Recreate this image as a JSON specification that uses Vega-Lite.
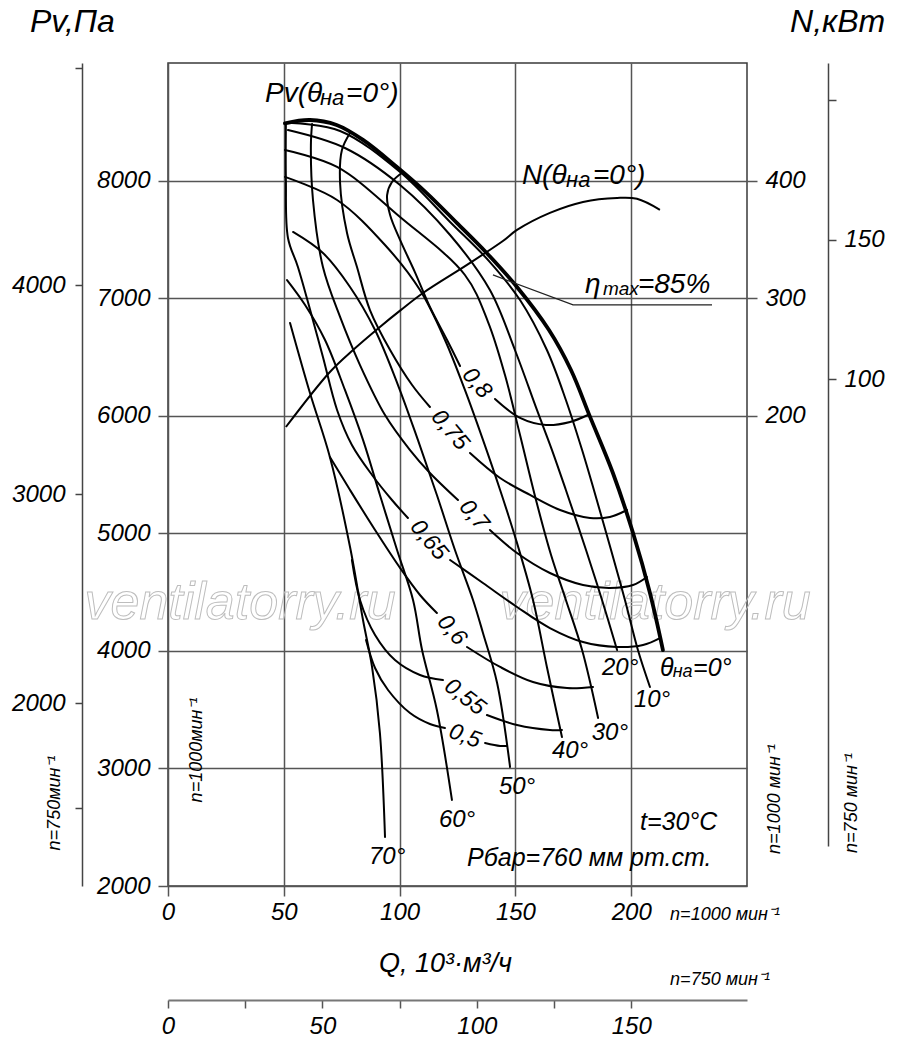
{
  "$schema": "https://vega.github.io/schema/vega-lite/v6.json",
  "width": 579,
  "height": 823,
  "autosize": "none",
  "padding": {"left": 168, "top": 63, "right": 153, "bottom": 161},
  "background": "white",
  "config": {
    "view": {"stroke": "#3a3a3a", "strokeWidth": 1.5},
    "font": "Liberation Sans",
    "axis": {
      "labelFont": "Liberation Sans", "labelFontStyle": "italic", "labelFontSize": 24, "labelColor": "#000",
      "labelFlush": false, "labelOverlap": false, "labelBound": false,
      "tickColor": "#444", "tickWidth": 1.5, "domainColor": "#444", "domainWidth": 1.5, "grid": false,
      "titleFont": "Liberation Sans", "titleFontStyle": "italic", "titleFontWeight": "normal", "titleColor": "#000"
    },
    "text": {"font": "Liberation Sans", "fontStyle": "italic", "color": "#000"}
  },
  "datasets": {
    "curves": [
      {"c":"0°","o":1,"q":50.5,"p":8487},{"c":"0°","o":2,"q":61.3,"p":8515},{"c":"0°","o":3,"q":72.8,"p":8473},{"c":"0°","o":4,"q":84.2,"p":8346},{"c":"0°","o":5,"q":98.7,"p":8118},{"c":"0°","o":6,"q":111.7,"p":7894},{"c":"0°","o":7,"q":124.7,"p":7640},{"c":"0°","o":8,"q":137.6,"p":7384},{"c":"0°","o":9,"q":150.6,"p":7097},{"c":"0°","o":10,"q":164.5,"p":6729},{"c":"0°","o":11,"q":174.0,"p":6389},{"c":"0°","o":12,"q":182.2,"p":5992},{"c":"0°","o":13,"q":192.1,"p":5513},{"c":"0°","o":14,"q":200.8,"p":5002},{"c":"0°","o":15,"q":208.1,"p":4492},{"c":"0°","o":16,"q":213.7,"p":4007},
      {"c":"10°","o":1,"q":53.5,"p":8490},{"c":"10°","o":2,"q":74.3,"p":8422},{"c":"10°","o":3,"q":100.2,"p":8073},{"c":"10°","o":4,"q":121.8,"p":7648},{"c":"10°","o":5,"q":139.0,"p":7307},{"c":"10°","o":6,"q":152.0,"p":6984},{"c":"10°","o":7,"q":163.6,"p":6559},{"c":"10°","o":8,"q":171.8,"p":6134},{"c":"10°","o":9,"q":178.8,"p":5708},{"c":"10°","o":10,"q":183.9,"p":5368},{"c":"10°","o":11,"q":191.3,"p":4858},{"c":"10°","o":12,"q":197.3,"p":4433},{"c":"10°","o":13,"q":202.9,"p":4007},{"c":"10°","o":14,"q":208.1,"p":3693},
      {"c":"20°","o":1,"q":51.8,"p":8430},{"c":"20°","o":2,"q":76.4,"p":8277},{"c":"20°","o":3,"q":100.2,"p":7962},{"c":"20°","o":4,"q":121.8,"p":7537},{"c":"20°","o":5,"q":139.0,"p":7069},{"c":"20°","o":6,"q":149.8,"p":6559},{"c":"20°","o":7,"q":159.3,"p":6049},{"c":"20°","o":8,"q":165.8,"p":5708},{"c":"20°","o":9,"q":171.8,"p":5368},{"c":"20°","o":10,"q":180.5,"p":4858},{"c":"20°","o":11,"q":187.4,"p":4433},{"c":"20°","o":12,"q":193.9,"p":4007},
      {"c":"30°","o":1,"q":50.5,"p":8260},{"c":"30°","o":2,"q":73.0,"p":8116},{"c":"30°","o":3,"q":100.2,"p":7690},{"c":"30°","o":4,"q":128.2,"p":7197},{"c":"30°","o":5,"q":138.2,"p":6797},{"c":"30°","o":6,"q":145.5,"p":6346},{"c":"30°","o":7,"q":152.0,"p":5836},{"c":"30°","o":8,"q":158.9,"p":5283},{"c":"30°","o":9,"q":165.4,"p":4815},{"c":"30°","o":10,"q":171.8,"p":4433},{"c":"30°","o":11,"q":178.8,"p":4007},{"c":"30°","o":12,"q":185.7,"p":3429},
      {"c":"40°","o":1,"q":50.5,"p":8031},{"c":"40°","o":2,"q":73.0,"p":7835},{"c":"40°","o":3,"q":93.7,"p":7452},{"c":"40°","o":4,"q":108.8,"p":7069},{"c":"40°","o":5,"q":119.6,"p":6644},{"c":"40°","o":6,"q":128.2,"p":6219},{"c":"40°","o":7,"q":136.0,"p":5794},{"c":"40°","o":8,"q":143.4,"p":5368},{"c":"40°","o":9,"q":150.3,"p":4943},{"c":"40°","o":10,"q":157.6,"p":4433},{"c":"40°","o":11,"q":163.6,"p":3863},{"c":"40°","o":12,"q":170.1,"p":3267},
      {"c":"50°","o":1,"q":54.0,"p":7563},{"c":"50°","o":2,"q":66.9,"p":7384},{"c":"50°","o":3,"q":78.6,"p":7095},{"c":"50°","o":4,"q":89.4,"p":6729},{"c":"50°","o":5,"q":99.3,"p":6261},{"c":"50°","o":6,"q":107.9,"p":5794},{"c":"50°","o":7,"q":116.1,"p":5326},{"c":"50°","o":8,"q":123.9,"p":4858},{"c":"50°","o":9,"q":131.7,"p":4433},{"c":"50°","o":10,"q":136.0,"p":4152},{"c":"50°","o":11,"q":142.1,"p":3727},{"c":"50°","o":12,"q":147.7,"p":3012},
      {"c":"60°","o":1,"q":51.4,"p":7154},{"c":"60°","o":2,"q":59.2,"p":6942},{"c":"60°","o":3,"q":67.8,"p":6644},{"c":"60°","o":4,"q":76.4,"p":6219},{"c":"60°","o":5,"q":84.2,"p":5794},{"c":"60°","o":6,"q":91.5,"p":5326},{"c":"60°","o":7,"q":98.9,"p":4858},{"c":"60°","o":8,"q":105.8,"p":4433},{"c":"60°","o":9,"q":109.7,"p":4007},{"c":"60°","o":10,"q":116.1,"p":3497},{"c":"60°","o":11,"q":122.6,"p":2732},
      {"c":"70°","o":1,"q":52.7,"p":6789},{"c":"70°","o":2,"q":61.3,"p":6193},{"c":"70°","o":3,"q":69.9,"p":5649},{"c":"70°","o":4,"q":78.6,"p":4883},{"c":"70°","o":5,"q":84.2,"p":4262},{"c":"70°","o":6,"q":88.1,"p":3863},{"c":"70°","o":7,"q":91.5,"p":3301},{"c":"70°","o":8,"q":93.7,"p":2417},
      {"c":"0,8a","o":1,"q":101.5,"p":8073},{"c":"0,8a","o":2,"q":96.7,"p":7988},{"c":"0,8a","o":3,"q":94.6,"p":7877},{"c":"0,8a","o":4,"q":95.9,"p":7707},{"c":"0,8a","o":5,"q":100.2,"p":7495},{"c":"0,8a","o":6,"q":106.6,"p":7222},{"c":"0,8a","o":7,"q":113.1,"p":6925},{"c":"0,8a","o":8,"q":120.5,"p":6644},{"c":"0,8a","o":9,"q":126.1,"p":6423},
      {"c":"0,8b","o":1,"q":141.2,"p":6142},{"c":"0,8b","o":2,"q":152.0,"p":5981},{"c":"0,8b","o":3,"q":163.2,"p":5921},{"c":"0,8b","o":4,"q":173.6,"p":5947},{"c":"0,8b","o":5,"q":181.3,"p":6006},
      {"c":"0,75a","o":1,"q":78.6,"p":8405},{"c":"0,75a","o":2,"q":75.1,"p":8260},{"c":"0,75a","o":3,"q":74.3,"p":7979},{"c":"0,75a","o":4,"q":77.3,"p":7554},{"c":"0,75a","o":5,"q":81.6,"p":7265},{"c":"0,75a","o":6,"q":87.2,"p":6899},{"c":"0,75a","o":7,"q":95.9,"p":6559},{"c":"0,75a","o":8,"q":105.4,"p":6261},{"c":"0,75a","o":9,"q":113.1,"p":6074},
      {"c":"0,75b","o":1,"q":130.4,"p":5683},{"c":"0,75b","o":2,"q":143.4,"p":5470},{"c":"0,75b","o":3,"q":156.3,"p":5326},{"c":"0,75b","o":4,"q":169.3,"p":5198},{"c":"0,75b","o":5,"q":182.2,"p":5130},{"c":"0,75b","o":6,"q":190.8,"p":5139},{"c":"0,75b","o":7,"q":198.2,"p":5198},
      {"c":"0,7a","o":1,"q":62.2,"p":8481},{"c":"0,7a","o":2,"q":61.7,"p":8303},{"c":"0,7a","o":3,"q":62.6,"p":7835},{"c":"0,7a","o":4,"q":66.9,"p":7265},{"c":"0,7a","o":5,"q":74.3,"p":6840},{"c":"0,7a","o":6,"q":82.9,"p":6431},{"c":"0,7a","o":7,"q":93.7,"p":6006},{"c":"0,7a","o":8,"q":104.5,"p":5708},{"c":"0,7a","o":9,"q":113.1,"p":5513},{"c":"0,7a","o":10,"q":125.2,"p":5283},
      {"c":"0,7b","o":1,"q":139.0,"p":5028},{"c":"0,7b","o":2,"q":150.7,"p":4832},{"c":"0,7b","o":3,"q":164.9,"p":4662},{"c":"0,7b","o":4,"q":179.2,"p":4560},{"c":"0,7b","o":5,"q":190.8,"p":4535},{"c":"0,7b","o":6,"q":200.8,"p":4560},{"c":"0,7b","o":7,"q":206.8,"p":4628},
      {"c":"0,65a","o":1,"q":50.9,"p":8481},{"c":"0,65a","o":2,"q":50.9,"p":8005},{"c":"0,65a","o":3,"q":51.8,"p":7512},{"c":"0,65a","o":4,"q":56.1,"p":7265},{"c":"0,65a","o":5,"q":62.2,"p":6840},{"c":"0,65a","o":6,"q":66.9,"p":6500},{"c":"0,65a","o":7,"q":73.0,"p":6049},{"c":"0,65a","o":8,"q":79.4,"p":5751},{"c":"0,65a","o":9,"q":88.1,"p":5496},{"c":"0,65a","o":10,"q":96.7,"p":5283},{"c":"0,65a","o":11,"q":103.6,"p":5130},
      {"c":"0,65b","o":1,"q":121.8,"p":4773},{"c":"0,65b","o":2,"q":136.0,"p":4577},{"c":"0,65b","o":3,"q":150.7,"p":4373},{"c":"0,65b","o":4,"q":164.9,"p":4194},{"c":"0,65b","o":5,"q":179.2,"p":4075},{"c":"0,65b","o":6,"q":193.9,"p":4033},{"c":"0,65b","o":7,"q":205.1,"p":4050},{"c":"0,65b","o":8,"q":212.4,"p":4109},
      {"c":"0,6a","o":1,"q":69.9,"p":5649},{"c":"0,6a","o":2,"q":78.6,"p":5368},{"c":"0,6a","o":3,"q":89.4,"p":5028},{"c":"0,6a","o":4,"q":100.2,"p":4705},{"c":"0,6a","o":5,"q":108.8,"p":4475},{"c":"0,6a","o":6,"q":116.1,"p":4322},
      {"c":"0,6b","o":1,"q":129.1,"p":4033},{"c":"0,6b","o":2,"q":143.4,"p":3863},{"c":"0,6b","o":3,"q":157.6,"p":3735},{"c":"0,6b","o":4,"q":172.3,"p":3684},{"c":"0,6b","o":5,"q":183.5,"p":3693},
      {"c":"0,55a","o":1,"q":79.4,"p":4773},{"c":"0,55a","o":2,"q":82.9,"p":4433},{"c":"0,55a","o":3,"q":89.4,"p":4135},{"c":"0,55a","o":4,"q":98.0,"p":3922},{"c":"0,55a","o":5,"q":108.8,"p":3795},{"c":"0,55a","o":6,"q":118.7,"p":3752},
      {"c":"0,55b","o":1,"q":137.7,"p":3454},{"c":"0,55b","o":2,"q":150.7,"p":3369},{"c":"0,55b","o":3,"q":164.9,"p":3327},{"c":"0,55b","o":4,"q":170.1,"p":3327},
      {"c":"0,5a","o":1,"q":85.5,"p":4092},{"c":"0,5a","o":2,"q":89.4,"p":3854},{"c":"0,5a","o":3,"q":95.0,"p":3667},{"c":"0,5a","o":4,"q":104.5,"p":3471},{"c":"0,5a","o":5,"q":113.1,"p":3378},{"c":"0,5a","o":6,"q":119.6,"p":3344},
      {"c":"0,5b","o":1,"q":136.9,"p":3216},{"c":"0,5b","o":2,"q":143.4,"p":3191},{"c":"0,5b","o":3,"q":146.4,"p":3191}
    ],
    "power": [
      {"q":50.9,"n":190.4},{"q":69.9,"n":237.2},{"q":79.9,"n":255.9},{"q":91.5,"n":275.5},{"q":100.6,"n":290.0},{"q":110.1,"n":304.4},{"q":129.1,"n":328.3},{"q":144.6,"n":348.6},{"q":150.7,"n":358.0},{"q":164.9,"n":372.5},{"q":179.2,"n":381.8},{"q":193.9,"n":385.2},{"q":202.5,"n":384.5},{"q":212.4,"n":375.1}
    ],
    "leader": [
      {"o":1,"q":140.3,"p":7197},{"o":2,"q":174.9,"p":6942},{"o":3,"q":234.9,"p":6942}
    ],
    "labels": [
      {"g":"title","t":"Pv,Па","q":-59.6,"p":9349},
      {"g":"title","t":"N,кВт","q":268.6,"p":9349},
      {"g":"big","t":"Pv(θ","q":41.9,"p":8737},
      {"g":"big","t":"=0°)","q":76.9,"p":8737},
      {"g":"big","t":"N(θ","q":152.8,"p":8039},
      {"g":"big","t":"=0°)","q":183.5,"p":8039},
      {"g":"big","t":"η","q":180.1,"p":7112},
      {"g":"big","t":"=85%","q":202.9,"p":7112},
      {"g":"sub","t":"на","q":65.6,"p":8702},
      {"g":"sub","t":"на","q":171.9,"p":8005},
      {"g":"max","t":"max","q":187.8,"p":7078},
      {"g":"mid","t":"θ","q":212.4,"p":3854},
      {"g":"mid","t":"=0°","q":226.7,"p":3854},
      {"g":"mid","t":"t=30°C","q":203.8,"p":2544},
      {"g":"mid","t":"Рбар=760 мм рт.ст.","q":129.1,"p":2238},
      {"g":"sub2","t":"на","q":217.9,"p":3820},
      {"g":"deg","t":"20°","q":195.2,"p":3854},
      {"g":"deg","t":"10°","q":209.0,"p":3582},
      {"g":"deg","t":"30°","q":190.8,"p":3301},
      {"g":"deg","t":"40°","q":173.6,"p":3148},
      {"g":"deg","t":"50°","q":150.7,"p":2842},
      {"g":"deg","t":"60°","q":124.8,"p":2561},
      {"g":"deg","t":"70°","q":94.6,"p":2247},
      {"g":"e1","t":"0,8","q":133.4,"p":6278},
      {"g":"e1","t":"0,75","q":121.8,"p":5879},
      {"g":"e1","t":"0,7","q":132.1,"p":5156},
      {"g":"e1","t":"0,65","q":112.7,"p":4943},
      {"g":"e1","t":"0,6","q":122.6,"p":4177},
      {"g":"e2","t":"0,55","q":128.2,"p":3608},
      {"g":"e3","t":"0,5","q":128.2,"p":3276},
      {"g":"rot","t":"n=1000мин⁻¹","q":12.5,"p":3157},
      {"g":"rot","t":"n=750мин⁻¹","q":-48.8,"p":2706},
      {"g":"rot","t":"n=1000 мин⁻¹","q":262.1,"p":2740},
      {"g":"rot","t":"n=750 мин⁻¹","q":295.3,"p":2706},
      {"g":"n","t":"n=1000 мин⁻¹","q":216.8,"p":1753},
      {"g":"n","t":"n=750 мин⁻¹","q":216.8,"p":1200},
      {"g":"wm","t":"ventilatorry.ru","q":31.1,"p":4407},
      {"g":"wm","t":"ventilatorry.ru","q":210.3,"p":4407}
    ]
  },
  "resolve": {"scale": {"x": "independent", "y": "independent"}},
  "layer": [
    {
      "encoding": {
        "x": {
          "field": "q", "type": "quantitative",
          "scale": {"domain": [0, 250], "nice": false, "zero": false},
          "axis": {
            "values": [0, 50, 100, 150, 200], "format": "d", "grid": true, "gridColor": "#555", "gridWidth": 1.5,
            "tickSize": 10, "tickColor": "#555", "domain": false, "labelPadding": 4,
            "title": "Q, 10³·м³/ч", "titleFontSize": 27, "titleX": 277, "titleY": 77,
            "titleAlign": "center", "titleBaseline": "middle"
          }
        },
        "y": {
          "field": "p", "type": "quantitative",
          "scale": {"domain": [2000, 9000], "nice": false, "zero": false},
          "axis": {
            "values": [2000, 3000, 4000, 5000, 6000, 7000, 8000], "format": "d", "grid": true,
            "gridColor": "#555", "gridWidth": 1.5, "tickSize": 10, "tickColor": "#555",
            "domain": false, "labelPadding": 8, "title": null
          }
        }
      },
      "layer": [
        {
          "data": {"name": "labels"},
          "transform": [{"filter": "datum.g === 'wm'"}],
          "mark": {"type": "text", "fontSize": 52, "align": "center", "baseline": "middle", "fillOpacity": 0, "stroke": "#bdbdbd", "strokeWidth": 1},
          "encoding": {"text": {"field": "t"}}
        },
        {
          "data": {"name": "curves"},
          "mark": {"type": "line", "interpolate": "catmull-rom", "strokeCap": "round", "strokeJoin": "round", "color": "#000"},
          "encoding": {
            "detail": {"field": "c"},
            "order": {"field": "o", "type": "quantitative"},
            "strokeWidth": {"condition": {"test": "datum.c === '0°'", "value": 3.8}, "value": 2}
          }
        },
        {
          "data": {"name": "leader"},
          "mark": {"type": "line", "color": "#222", "strokeWidth": 1.3},
          "encoding": {"order": {"field": "o", "type": "quantitative"}}
        },
        {
          "data": {"name": "labels"},
          "transform": [{"filter": "datum.g === 'title'"}],
          "mark": {"type": "text", "fontSize": 32, "align": "left", "baseline": "middle"},
          "encoding": {"text": {"field": "t"}}
        },
        {
          "data": {"name": "labels"},
          "transform": [{"filter": "datum.g === 'big'"}],
          "mark": {"type": "text", "fontSize": 28, "align": "left", "baseline": "middle"},
          "encoding": {"text": {"field": "t"}}
        },
        {
          "data": {"name": "labels"},
          "transform": [{"filter": "datum.g === 'sub'"}],
          "mark": {"type": "text", "fontSize": 22, "align": "left", "baseline": "middle"},
          "encoding": {"text": {"field": "t"}}
        },
        {
          "data": {"name": "labels"},
          "transform": [{"filter": "datum.g === 'max'"}],
          "mark": {"type": "text", "fontSize": 19, "align": "left", "baseline": "middle"},
          "encoding": {"text": {"field": "t"}}
        },
        {
          "data": {"name": "labels"},
          "transform": [{"filter": "datum.g === 'mid'"}],
          "mark": {"type": "text", "fontSize": 25, "align": "left", "baseline": "middle"},
          "encoding": {"text": {"field": "t"}}
        },
        {
          "data": {"name": "labels"},
          "transform": [{"filter": "datum.g === 'sub2'"}],
          "mark": {"type": "text", "fontSize": 18, "align": "left", "baseline": "middle"},
          "encoding": {"text": {"field": "t"}}
        },
        {
          "data": {"name": "labels"},
          "transform": [{"filter": "datum.g === 'deg'"}],
          "mark": {"type": "text", "fontSize": 24, "align": "center", "baseline": "middle"},
          "encoding": {"text": {"field": "t"}}
        },
        {
          "data": {"name": "labels"},
          "transform": [{"filter": "datum.g === 'e1'"}],
          "mark": {"type": "text", "fontSize": 23, "align": "center", "baseline": "middle", "angle": 50},
          "encoding": {"text": {"field": "t"}}
        },
        {
          "data": {"name": "labels"},
          "transform": [{"filter": "datum.g === 'e2'"}],
          "mark": {"type": "text", "fontSize": 23, "align": "center", "baseline": "middle", "angle": 38},
          "encoding": {"text": {"field": "t"}}
        },
        {
          "data": {"name": "labels"},
          "transform": [{"filter": "datum.g === 'e3'"}],
          "mark": {"type": "text", "fontSize": 23, "align": "center", "baseline": "middle", "angle": 20},
          "encoding": {"text": {"field": "t"}}
        },
        {
          "data": {"name": "labels"},
          "transform": [{"filter": "datum.g === 'rot'"}],
          "mark": {"type": "text", "fontSize": 18, "align": "center", "baseline": "middle", "angle": 270},
          "encoding": {"text": {"field": "t"}}
        },
        {
          "data": {"name": "labels"},
          "transform": [{"filter": "datum.g === 'n'"}],
          "mark": {"type": "text", "fontSize": 18, "align": "left", "baseline": "middle"},
          "encoding": {"text": {"field": "t"}}
        }
      ]
    },
    {
      "data": {"name": "power"},
      "mark": {"type": "line", "interpolate": "catmull-rom", "color": "#000", "strokeWidth": 2},
      "encoding": {
        "x": {"field": "q", "type": "quantitative", "scale": {"domain": [0, 250], "nice": false, "zero": false}, "axis": null},
        "y": {
          "field": "n", "type": "quantitative",
          "scale": {"domain": [-200, 500], "nice": false, "zero": false},
          "axis": {"orient": "right", "values": [200, 300, 400], "format": "d", "tickSize": 10, "tickColor": "#555", "domain": false, "labelPadding": 8, "title": null}
        },
        "order": {"field": "q", "type": "quantitative"}
      }
    },
    {
      "data": {"values": [{"v": 3000}]},
      "mark": {"type": "point", "opacity": 0},
      "encoding": {
        "y": {
          "field": "v", "type": "quantitative",
          "scale": {"domain": [1125, 5062.5], "nice": false, "zero": false},
          "axis": {
            "orient": "left", "offset": 86, "values": [1500, 2000, 3000, 4000, 5040], "format": "d",
            "labelExpr": "datum.value < 1600 || datum.value > 4500 ? '' : datum.label",
            "tickSize": 7, "labelPadding": 10, "domain": true, "title": null
          }
        }
      }
    },
    {
      "data": {"values": [{"v": 150}]},
      "mark": {"type": "point", "opacity": 0},
      "encoding": {
        "y": {
          "field": "v", "type": "quantitative",
          "scale": {"domain": [-67.4, 213.3], "range": [783, 0], "nice": false, "zero": false},
          "axis": {
            "orient": "right", "offset": 81, "values": [100, 150, 200], "format": "d",
            "labelExpr": "datum.value > 180 ? '' : datum.label",
            "tickSize": 8, "labelPadding": 8, "domain": true, "title": null
          }
        }
      }
    },
    {
      "data": {"values": [{"v": 75}]},
      "mark": {"type": "point", "opacity": 0},
      "encoding": {
        "x": {
          "field": "v", "type": "quantitative",
          "scale": {"domain": [0, 187.5], "nice": false, "zero": false},
          "axis": {
            "orient": "bottom", "offset": 114, "values": [0, 25, 50, 75, 100, 125, 150], "format": "d",
            "labelExpr": "datum.value % 50 === 0 ? datum.label : ''",
            "tickSize": 8, "labelPadding": 6, "domain": true, "domainColor": "#777", "domainWidth": 2,
            "tickColor": "#555", "title": null
          }
        }
      }
    }
  ]
}
